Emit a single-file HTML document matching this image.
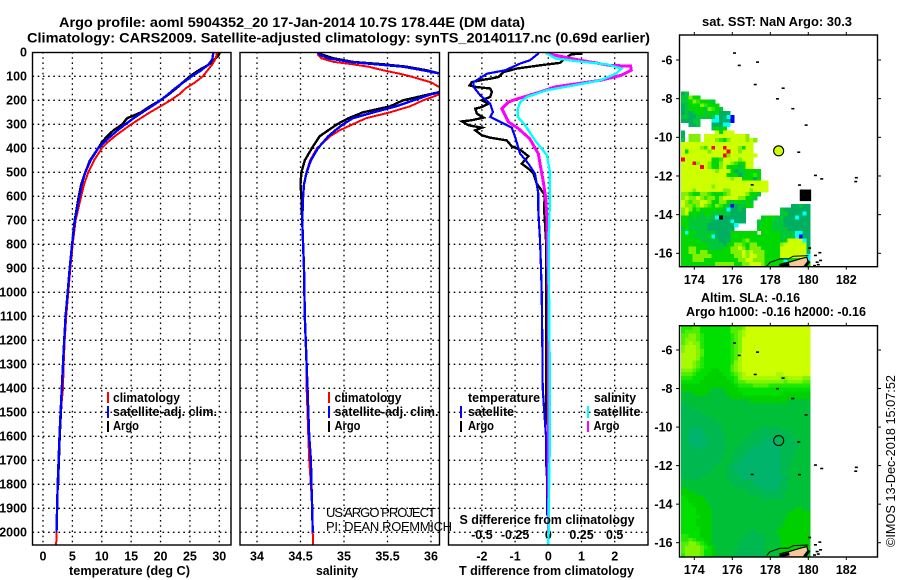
<!DOCTYPE html>
<html>
<head>
<meta charset="utf-8">
<title>Argo profile</title>
<style>
html,body{margin:0;padding:0;background:#fff;}
svg{display:block;}
text{font-family:"Liberation Sans",sans-serif;font-size:12.5px;font-weight:bold;fill:#000;}
.title{font-size:14px;}
.thin{font-weight:normal;font-size:13px;}
</style>
</head>
<body>
<svg id="fig" width="900" height="580" viewBox="0 0 900 580" xmlns="http://www.w3.org/2000/svg">
<defs>
<clipPath id="clipT"><rect x="32" y="52" width="199" height="493"/></clipPath>
<clipPath id="clipS"><rect x="240" y="52" width="200" height="493"/></clipPath>
<clipPath id="clipD"><rect x="448" y="52" width="200" height="493"/></clipPath>
<clipPath id="clipM1"><rect x="680" y="35" width="197" height="232"/></clipPath>
<clipPath id="clipM2"><rect x="680" y="326" width="197" height="231"/></clipPath>
</defs>
<rect x="0" y="0" width="900" height="580" fill="#fff"/>
<g id="layer"></g>

<text class="title" x="59" y="27" textLength="466" lengthAdjust="spacingAndGlyphs">Argo profile: aoml 5904352_20 17-Jan-2014 10.7S 178.44E (DM data)</text>
<text class="title" x="27" y="42.5" textLength="623" lengthAdjust="spacingAndGlyphs">Climatology: CARS2009. Satellite-adjusted climatology: synTS_20140117.nc (0.69d earlier)</text>

<text x="69" y="575" textLength="121" lengthAdjust="spacingAndGlyphs">temperature (deg C)</text>
<text x="316" y="575" textLength="42" lengthAdjust="spacingAndGlyphs">salinity</text>
<text x="459" y="575" textLength="175" lengthAdjust="spacingAndGlyphs">T difference from climatology</text>

<rect x="107" y="392" width="2" height="11" fill="#f00"/>
<rect x="107" y="406" width="2" height="12" fill="#00f"/>
<rect x="107" y="421" width="2" height="11" fill="#000"/>
<text x="113" y="402" textLength="67" lengthAdjust="spacingAndGlyphs">climatology</text>
<text x="113" y="416" textLength="104" lengthAdjust="spacingAndGlyphs">satellite-adj. clim.</text>
<text x="113" y="430" textLength="26" lengthAdjust="spacingAndGlyphs">Argo</text>

<rect x="328" y="392" width="2" height="11" fill="#f00"/>
<rect x="328" y="406" width="2" height="12" fill="#00f"/>
<rect x="328" y="421" width="2" height="11" fill="#000"/>
<text x="334.5" y="402" textLength="67" lengthAdjust="spacingAndGlyphs">climatology</text>
<text x="334.5" y="416" textLength="104" lengthAdjust="spacingAndGlyphs">satellite-adj. clim.</text>
<text x="334.5" y="430" textLength="26" lengthAdjust="spacingAndGlyphs">Argo</text>

<text class="thin" x="326" y="517" textLength="110" lengthAdjust="spacing">US ARGO PROJECT</text>
<text class="thin" x="326" y="531" textLength="126" lengthAdjust="spacing">PI: DEAN ROEMMICH</text>

<text x="468" y="402" textLength="72" lengthAdjust="spacingAndGlyphs">temperature</text>
<rect x="460" y="406" width="2" height="12" fill="#00f"/>
<text x="468" y="416" textLength="46" lengthAdjust="spacingAndGlyphs">satellite</text>
<rect x="460" y="421" width="2" height="11" fill="#000"/>
<text x="468" y="430" textLength="26" lengthAdjust="spacingAndGlyphs">Argo</text>
<text x="594" y="402" textLength="42" lengthAdjust="spacingAndGlyphs">salinity</text>
<rect x="587" y="406" width="2" height="12" fill="#0ff"/>
<text x="593.5" y="416" textLength="47" lengthAdjust="spacingAndGlyphs">satellite</text>
<rect x="587" y="421" width="2" height="11" fill="#f0f"/>
<text x="593.5" y="430" textLength="26" lengthAdjust="spacingAndGlyphs">Argo</text>
<text x="459.5" y="524" textLength="175" lengthAdjust="spacingAndGlyphs">S difference from climatology</text>

<text x="702" y="26" textLength="150" lengthAdjust="spacingAndGlyphs">sat. SST: NaN Argo: 30.3</text>
<text x="701" y="302" textLength="99" lengthAdjust="spacingAndGlyphs">Altim. SLA: -0.16</text>
<text x="686" y="316" textLength="180" lengthAdjust="spacingAndGlyphs">Argo h1000: -0.16 h2000: -0.16</text>
<text class="thin" transform="translate(895,547) rotate(-90)" x="0" y="0" textLength="172" lengthAdjust="spacingAndGlyphs">©IMOS 13-Dec-2018 15:07:52</text>
</svg>

<script>
// ---- profile data -----
var tempDepth = [0,15,30,50,75,100,125,150,175,200,225,250,275,300,325,350,375,400,450,500,550,600,700,800,900,1000,1100,1200,1300,1400,1500,1600,1700,1800,1900,2000,2050];
var tempClim = [29.6,29.5,29.3,28.8,28.0,27.2,25.9,24.3,23.2,21.7,20.0,18.2,16.6,15.0,13.6,12.2,11.0,10.0,8.7,7.7,7.0,6.5,5.55,5.05,4.65,4.3,3.95,3.7,3.5,3.4,3.0,2.8,2.65,2.5,2.4,2.3,2.25];
var tempSat = [29.0,28.9,28.8,28.2,26.9,25.3,23.9,22.5,21.3,20.0,18.5,16.9,15.4,14.0,12.7,11.5,10.4,9.4,8.1,7.2,6.6,6.2,5.45,4.95,4.55,4.2,3.85,3.6,3.4,3.2,3.0,2.8,2.65,2.5,2.4,2.3];
var tempArgo = [30.1,29.8,29.2,28.3,26.5,25.0,23.8,22.7,21.4,20.0,18.2,16.7,14.3,13.5,12.0,10.9,10.0,9.4,8.0,7.2,6.5,6.1,5.4,4.95,4.55,4.2,3.85,3.6,3.4,3.25,3.05,2.85,2.7,2.55];

var salDepth = [0,10,25,40,50,60,75,90,100,125,150,175,200,225,250,275,300,325,350,400,450,500,550,600,700,800,900,1000,1100,1200,1300,1400,1500,1600,1700,1800,1900,2000,2050];
var salClim = [34.70,34.70,34.74,34.88,35.10,35.28,35.45,35.65,35.76,36.00,36.12,36.10,35.91,35.76,35.53,35.25,35.10,34.95,34.84,34.69,34.61,34.57,34.54,34.53,34.52,34.53,34.54,34.545,34.55,34.56,34.57,34.57,34.58,34.59,34.60,34.62,34.635,34.64,34.645];
var salSat = [34.70,34.72,34.82,35.07,35.37,35.68,35.91,36.12,36.3,36.5,36.3,36.0,35.80,35.60,35.34,35.10,34.99,34.90,34.82,34.70,34.62,34.57,34.54,34.53,34.52,34.53,34.54,34.545,34.55,34.56,34.57,34.58,34.59,34.60,34.62,34.625,34.635,34.64];
var salArgo = [34.70,34.75,34.88,35.10,35.45,35.72,35.95,36.12,36.3,36.5,36.3,35.98,35.68,35.53,35.22,35.05,34.92,34.82,34.72,34.63,34.55,34.51,34.50,34.51,34.52,34.53,34.54,34.545,34.55,34.56,34.57,34.575,34.585,34.60,34.61,34.62];

var dTArgoDepth = [6,8,26,44,54,68,82,103,110,114,124,138,144,151,165,186,200,214,228,235,256,272,283,288,304,314,325,346,356,367,392,406,433,464,485,506,547,596,644,714,783,1000,1200,1400,1550];
var dTArgo = [1.03,0.70,0.50,0.35,-0.25,-0.95,-1.35,-1.50,-1.75,-1.95,-2.30,-2.37,-2.20,-1.75,-1.70,-1.75,-2.00,-1.80,-2.00,-2.20,-2.15,-1.95,-2.30,-2.60,-2.40,-2.00,-2.20,-2.00,-1.75,-1.25,-1.10,-0.85,-0.60,-0.80,-0.60,-0.45,-0.35,-0.10,-0.13,-0.10,-0.07,-0.06,-0.06,-0.07,-0.05];
var dTSatDepth = [3,33,47,75,89,103,124,144,179,214,249,269,290,314,353,422,464,506,589,658,783,900,1000,1200,1400,1500,1600,1700,1800,1930];
var dTSat = [-0.28,-0.55,-0.85,-1.30,-1.85,-2.00,-2.25,-2.25,-2.05,-1.75,-1.67,-1.75,-1.45,-1.10,-1.00,-0.85,-0.60,-0.40,-0.30,-0.30,-0.25,-0.22,-0.20,-0.18,-0.17,-0.12,-0.07,-0.07,-0.03,-0.03];
var dSArgoDepth = [3,12,33,54,58,75,96,117,144,165,197,207,235,262,290,318,360,422,471,533,603,672,783,1000,1400,1800,2000];
var dSArgo = [-0.02,0.05,0.24,0.46,0.62,0.625,0.55,0.39,0.05,-0.06,-0.25,-0.30,-0.35,-0.325,-0.30,-0.225,-0.14,-0.075,-0.06,-0.04,-0.02,-0.012,-0.008,0.0,0.0,0.002,0.003];
var dSSatDepth = [3,26,40,50,68,89,117,138,158,186,207,235,269,304,367,429,499,617,783,1000,1400,1600,1800,2000,2050];
var dSSat = [-0.02,0.06,0.26,0.44,0.55,0.51,0.39,0.19,-0.01,-0.16,-0.21,-0.23,-0.23,-0.175,-0.10,-0.01,0.012,0.012,0.003,0.005,0.012,0.012,0.006,0.002,0.0];

// ---- tick labels -----
var depthTicks = [0,100,200,300,400,500,600,700,800,900,1000,1100,1200,1300,1400,1500,1600,1700,1800,1900,2000];
var tempTicks = [0,5,10,15,20,25,30];
var salTicks = ["34","34.5","35","35.5","36"];
var dTTicks = [-2,-1,0,1,2];
var dSTicks = ["-0.5","-0.25","0","0.25","0.5"];
var lonTicks = [174,176,178,180,182];
var latTicks = [-6,-8,-10,-12,-14,-16];

// ---- map data -----
var sstColors = {d:"#00b060",g:"#00c838",G:"#00d800",l:"#30e800",L:"#80f000",y:"#ccff00",c:"#00ffff",b:"#0000ff",r:"#ff0000",k:"#000000"};
var sstRows = [
"dg",
"ggLGG",
"ggGLlGGGg",
"dgGGGLlGGG",
"dgGGGGgLlGg",
"dgdgGGgGgGddd",
"ggddgggggcddcb",
"dddgg...ccdddb",
"..ddg...dddcc",
"........gGgG",
"d........yGyyy",
"d.LLL.yyyyyyyyyyyL",
"g.LLL.yyyLlGLyyyyLyL",
"yyyyyyyyyyyyyyyyyyy",
"yyyyyLlyryyryyyLGyy",
"yGyyyyyLyyyyryyLyyy",
"yyyyyyyyyyyrLyyyyyyy",
"ryyyyyyyGGlyyyyLyyy",
"yyyrLyyLGGLyyLlGGyy",
"yyyyyryLGGLyGGGgGyy",
"yyyyyyyyyLyyyGdggGGGG",
"yyyyyyyyyyyyGGGdgGGlG",
"yyyyyyyyyyyyyLyyGGGdG",
"yyyyyyyyyyyyyyyyyyyyyyy",
"yyyyyyyyLyyyyyyyyyyyyyy",
"yyyLyyyyyyyLLyyyyyLyyyy",
"LLlGGLLlGGGlLyyyyLGGg",
"LyLLyLlLLGLyyyyLLGGg",
"yLlLLyyLGGLLGgGGgGg",
"yLLlLyLlGLlGgbdggGG..........ddgdd",
"LyLGlGGGGGGgcddgd.........gddddddd",
"LyGGGgGGgggggdddd.........gGddddcd",
"GGgGgggggckdddddd....gGGGggdddcddd",
"GGggggggdddddcddd...gGGGgggddddddd",
"GGgggggdddddddc.....gGGGgggddddddd",
"gGgggggddddddd......GGGGggggdddddd",
"GcGGgggggddddGGGGGGG.GGGGGggggccdd",
"GGGggggGcddddGGGGGGGGGGGGGggggcbdd",
"GGGGGgggggdddGGGlLGGGGGGGGgGyyyycd",
"GGGGGGGggggdGGLLlGLLGGGGGGLyyyyyyd",
"GGLLGGGggggGGLLyLGLLLGGGGGyyyyyyyd",
"GGLLGLLGGGGGGLLLyLyLLLGGGGyyyyyyyd",
"GGGLLLLLGGGGGGLLyLyyLLGGGGyyyyyyyc",
"GGGLLLGGGGGGGGGLLyyLLLGGGGGcGGGGGc",
"GGGGGGGGGLLLLLGGLLyyyLGGGGGGGGGGGG"
];
var slaColors = {A:"#00b46c",B:"#00b850",C:"#00c038",D:"#00d000",E:"#00e000",F:"#20e800",G:"#50ee00",H:"#80f400",I:"#a8fa00",J:"#ccff00"};
var slaRows = [
"FFFGGEEEEEEEEGGGHJJJJJJJJJJJJJJJJJ",
"FGGGGEEEEEEEEGGHIJJJJJJJJJJJJJJJJJ",
"GGHHGFEEEEEEEFGHIJJJJJJJJJJJJJJJJJ",
"GHHHGFEEEEEEEFGHJJJJJJJJJJJJJJJJJJ",
"GHIHHFEEEEEEEFGHJJJJJJJJJJJJJJJJJJ",
"HIIIHFEEEEEEEFGHJJJJJJJJJJJJJJJJJJ",
"HIIIHGEEEEEEEFGHJJJJJJJJJJJJJJJJJJ",
"IIIIHGEEEEEEEFGIJJJJJJJJJJJJJJJJJJ",
"IIIIHFEEEEEEEFGIJJJJJJJJJJJJJJJJJJ",
"IIIHGFEEEEEEEFHIJJJJJJJJJJJJJJJJJJ",
"IIIHGFEEEEEEEGHIJJJJJJJJJJJJJJJJJJ",
"HHHGFEEEDDEEEGHIJJJJJJJJJJJJJJJJJJ",
"GGGFEEEDDDDEEFGHIJJJJJJJJIIJJJJJJJ",
"FFFEEEDDDDDDEEFHIIIIIIIIIIHHIIIIHH",
"EEEEEDDDDDDDDEFGGHHHHHHHHHHGHHHHGG",
"DDDDDDDDDDDDDDEFFFFGGGGFFFFFFFFFFF",
"DDDDDDDDCCCDDDDEEEEEEEEEEEEEEEEEEE",
"CCCDDDDCCCCCDDDDEEEEEEEEEEEDDDDDDD",
"CCCCCCCCCCCCCDDDDDDDDDDDDDDDDDDDDD",
"CCCCCCCCCCCCCCCCCCDDDDDDDDDDCCCCCC",
"BBCCCCCCCCCCCCCCCCCCCCCCCCCCCCCCCC",
"BBBCCCCCCCCCCCCCCCCCCCCCCCCCCCCCCC",
"BBBBBCCCCCCCCCCCCCCCCCCCCCCCCCCCCC",
"BBBBBBBCCCCCCCCCCCCCCCCCCCCCCCCCCC",
"BBBBBBBBBCCCCCCCCCCCCCCCCCCCCCCCCC",
"BBBBBBBBBBCCCCCCCCCCCCCCCCCCCCCCCC",
"BBBAABBBBBBCCCCCCCCCCBBBBBCCCCCCCC",
"BBAAAABBBBBCCCCCCCCBBBBBBBBBBCCCCC",
"BBAAAABBBBBBCCCCCCBBBBBBBBBBBBCCCC",
"BBAAAAABBBBBCCCCCBBBBBAAABBBBBCCCC",
"BBAAAAABBBBBCCCCBBBBBAAAAABBBBBCCC",
"BBBAAABBBBBBCCCBBBBAAAAAAABBBBBCCC",
"BBBBBBBBBBBBCCBBBBAAAAAAAABBBBCCCC",
"BBBBBBBBBBBCCCBBBAAAAAAAAABBBBCCCC",
"BBBBBBBBBBBCCBBBAAAAAAAAAABBBCCCCC",
"BBBBBBBBBBCCCBBAAAAAAAAAAABBBCCCCC",
"BBBBBBBBBCCCBBAAAAAAAAAAAABBBCCCCC",
"BBBBBBBBCCCCBBAAAAAAAAAAAABBCCCCCC",
"BBBBBBBCCCCCBBBAAAAAAAAAAABBCCCCCC",
"CBBBBCCCCCCCBBBBAAAAAAAAAAABBCCCCC",
"CCCCCCCCCCCCCBBBBBBAAAAAAABBCCCCCC",
"CCCCCCCCCCCCCCBBBBBBAAAAAABBCCCCCC",
"DDCCCCCCCCCCCCCCCBBBBBAAABBBCCCCCC",
"DDDDCCCCCCCCCCCCCCBBBBBBBBBCCCCCCC",
"EDDDDDCCCCCCCCCCCCCCCBBBBBBCCCCCCC",
"EEDDDDDCCCCCCCCCCCCCCCCCCCCCCCCCCC",
"EEEDDDDCCCCCCCCCCCCCCCCCCCCCCCCCCC",
"EEEEDDDDCCCCCCCCCCCCCCCCCCCCCCDDCC",
"EEEEDDDDCCCCCCCCCCCCCCCCCCCCDDDDDD",
"EEEEEDDDCCCCCCCCCCCCCCCCCCCCDDDDDD",
"EEEEDDDDCCCCCCCCCCCCCCCCCCCDDDDDDD",
"EEEEDDDDCCCCCCCCCCCCCCCCCCCDDDDDDD",
"EEEEEDDDCCCCCCCCCCCCCCCCCCDDDDDDDD",
"EEEEEDDDCCCCCCCCCCBBCCCCCDDDDDDDDD",
"FFEEEDDDCCCCCCCCCBBBBBCCCCDDDDDDDD",
"FFGFEEDDCCCCCCCCBBBBBBCCCCDDDDDDDD",
"GGHHGFEDCCCCCCCBBBBBBBCCCCDDDDDDDD",
"GHHHHGFEDCCCCCCBBBBBBBCCCCDDDDDDDD",
"GHHHHGEEDCCCCCBBBBBBBBCCCCDDDDDDDD",
"FHHHHGEEDCCCCCBBBBBBBBCCCCDDDDDDDD"
];
var islandLon = [176.09,176.34,177.3,177.18,178.65,178.35,179.16,179.86,179.47,180.35,180.68,182.47,182.5,177.02,179.51,180.04,180.35,180.58,180.44,180.62,180.3,180.5];
var islandLat = [-5.65,-6.29,-6.12,-7.28,-7.47,-8.02,-8.53,-9.38,-10.78,-11.98,-12.16,-12.3,-12.1,-12.47,-12.48,-15.74,-16.12,-15.98,-16.47,-16.38,-16.65,-16.6];
var landLon = [178.51,178.51,178.95,179.56,179.92,180.0,179.74];
var landLat = [-16.74,-16.57,-16.47,-16.29,-16.2,-16.47,-16.74];
var coastLon = [177.81,177.98,178.51,178.95,179.21,180.0];
var coastLat = [-16.67,-16.47,-16.29,-16.29,-16.15,-16.12];
var reefWestLon = [178.5,179.0];
var reefWestLat = [-16.68,-16.58];
var reefEastLon = [179.8,180.05];
var reefEastLat = [-16.72,-16.4];
var argoLon = [178.44];
var argoLat = [-10.7];
var boxLon = [179.55,180.15];
var boxLat = [-12.7,-13.3];

// ---- axis functions -----
function depthY(d){return 52.3+0.24*d;}
function tempX(t){return 43+5.877*t;}
function salX(s){return 257+87*(s-34);}
function dTX(t){return 548.3+33.2*t;}
function dSX(s){return 548.3+132.8*s;}
function lonX(l){return 694.3+19*(l-174);}
function latY1(l){return 60+19.33*(-6-l);}
function latY2(l){return 350+19.27*(-6-l);}

var NS="http://www.w3.org/2000/svg";
var layer=document.getElementById("layer");
function mk(tag,parent){var e=document.createElementNS(NS,tag);(parent||layer).appendChild(e);return e;}
function dotted(x1,y1,x2,y2){
  var l=mk("line",gridG);
  l.setAttribute("x1",x1);l.setAttribute("y1",y1);l.setAttribute("x2",x2);l.setAttribute("y2",y2);
  l.setAttribute("stroke","#000");l.setAttribute("stroke-width","1.3");l.setAttribute("stroke-dasharray","1.6 3.6");
  
  
}
function label(txt,x,y,anchor,nm){
  var t=mk("text");
  t.textContent=txt;t.setAttribute("x",x);t.setAttribute("y",y);t.setAttribute("text-anchor",anchor);
  
  
}
function curve(xs,ds,xf,color,clip,nm,w){
  var pts=[];
  for(var i=0;i<xs.length;i++){pts.push(xf(xs[i]).toFixed(1)+","+depthY(ds[i]).toFixed(1));}
  var p=mk("polyline");
  p.setAttribute("points",pts.join(" "));p.setAttribute("fill","none");p.setAttribute("stroke",color);
  p.setAttribute("stroke-width",w||2);p.setAttribute("clip-path","url(#"+clip+")");p.setAttribute("shape-rendering","crispEdges");
  
  
}
function frame(x,y,w,h,nm){
  var r=mk("rect");
  r.setAttribute("x",x);r.setAttribute("y",y);r.setAttribute("width",w);r.setAttribute("height",h);
  r.setAttribute("fill","none");r.setAttribute("stroke","#000");r.setAttribute("stroke-width","1.4");
  
  
}

var gridG=mk("g");


var panels=[[32.5,231],[240,439.5],[448.5,648]];
panels.forEach(function(p){
  depthTicks.forEach(function(d){ if(d>0) dotted(p[0],depthY(d),p[1],depthY(d)); });
});
tempTicks.forEach(function(t){dotted(tempX(t),52,tempX(t),545);});
salTicks.forEach(function(s){dotted(salX(+s),52,salX(+s),545);});
dTTicks.forEach(function(t){dotted(dTX(t),52,dTX(t),545);});

depthTicks.forEach(function(d){label(String(d),27,depthY(d)+4.3,"end","depth-tick-label");});
tempTicks.forEach(function(t){label(String(t),tempX(t),560.5,"middle","temperature-tick-label");});
salTicks.forEach(function(s){label(s,salX(+s),560.5,"middle","salinity-tick-label");});
dTTicks.forEach(function(t){label(String(t),dTX(t),560.5,"middle","t-difference-tick-label");});
dSTicks.forEach(function(s){label(s,dSX(+s),539,"middle","s-difference-tick-label");});

function part(a,b){return b.slice(0,a.length);}
curve(tempArgo,part(tempArgo,tempDepth),tempX,"#000","clipT","temperature-argo-line",2.4);
curve(tempClim,part(tempClim,tempDepth),tempX,"#f00","clipT","temperature-climatology-line");
curve(tempSat,part(tempSat,tempDepth),tempX,"#00f","clipT","temperature-satellite-line",2.4);
curve(salArgo,part(salArgo,salDepth),salX,"#000","clipS","salinity-argo-line",2.4);
curve(salClim,part(salClim,salDepth),salX,"#f00","clipS","salinity-climatology-line");
curve(salSat,part(salSat,salDepth),salX,"#00f","clipS","salinity-satellite-line",2.4);
curve(dTArgo,dTArgoDepth,dTX,"#000","clipD","t-difference-argo-line",2.4);
curve(dTSat,dTSatDepth,dTX,"#00f","clipD","t-difference-satellite-line",2.2);
curve(dSArgo,dSArgoDepth,dSX,"#f0f","clipD","s-difference-argo-line",3);
curve(dSSat,dSSatDepth,dSX,"#0ff","clipD","s-difference-satellite-line",2.4);

frame(32.5,52.5,198.5,492.5,"temperature-panel-frame");
frame(240,52.5,199.5,492.5,"salinity-panel-frame");
frame(448.5,52.5,199.5,492.5,"difference-panel-frame");

// ---- maps -----
function cells(rows,colors,top,latF,clip,nm,pad){
  var g=mk("g");
  g.setAttribute("clip-path","url(#"+clip+")");
  g.setAttribute("shape-rendering","crispEdges");
  
  
  rows.forEach(function(row,r){
    var s=pad?row.padEnd(34,row[row.length-1]).slice(0,34):row;
    for(var c=0;c<s.length;c++){
      var col=colors[s[c]];
      if(!col) continue;
      var lon=173.3+0.2*c, lat=top-0.2*r;
      var x0=lonX(lon), x1=lonX(lon+0.2), y0=latF(lat), y1=latF(lat-0.2);
      var e=mk("rect",g);
      e.setAttribute("x",x0.toFixed(2));e.setAttribute("y",y0.toFixed(2));
      e.setAttribute("width",(x1-x0+0.3).toFixed(2));e.setAttribute("height",(y1-y0+0.3).toFixed(2));
      e.setAttribute("fill",col);
      
      
    }
  });
}
cells(sstRows,sstColors,-7.64,latY1,"clipM1","sst-heatmap",false);
cells(slaRows,slaColors,-4.75,latY2,"clipM2","sla-heatmap",true);

function line2(parent,lons,lats,latF,w,nm){
  var c=mk("polyline",parent);
  c.setAttribute("points",lons.map(function(l,i){return lonX(l).toFixed(1)+","+latF(lats[i]).toFixed(1);}).join(" "));
  c.setAttribute("fill","none");c.setAttribute("stroke","#000");c.setAttribute("stroke-width",w);
  
  
}
function overlays(latF,clip,prefix,fillArgo){
  var g=mk("g");
  g.setAttribute("clip-path","url(#"+clip+")");
  
  
  var land=mk("polygon",g);
  land.setAttribute("points",landLon.map(function(l,i){return lonX(l).toFixed(1)+","+latF(landLat[i]).toFixed(1);}).join(" "));
  land.setAttribute("fill","#f8c898");land.setAttribute("stroke","#000");land.setAttribute("stroke-width","1.2");
  
  
  line2(g,coastLon,coastLat,latF,1,prefix+"-coastline");
  line2(g,reefWestLon,reefWestLat,latF,3,prefix+"-reef-west");
  line2(g,reefEastLon,reefEastLat,latF,3,prefix+"-reef-east");
  islandLon.forEach(function(l,i){
    var e=mk("rect",g);
    e.setAttribute("x",lonX(l)-1);e.setAttribute("y",latF(islandLat[i])-1);
    e.setAttribute("width",3);e.setAttribute("height",1.6);e.setAttribute("fill","#000");
    
    
  });
  var c=mk("circle",g);
  c.setAttribute("cx",lonX(argoLon[0]));c.setAttribute("cy",latF(argoLat[0]));c.setAttribute("r",5);
  c.setAttribute("fill",fillArgo);c.setAttribute("stroke","#000");c.setAttribute("stroke-width","1.1");
  
  
}
overlays(latY1,"clipM1","sst-map","#ccff00");
overlays(latY2,"clipM2","sla-map","none");

var box=mk("rect");
box.setAttribute("x",lonX(boxLon[0]));box.setAttribute("y",latY1(boxLat[0]));
box.setAttribute("width",lonX(boxLon[1])-lonX(boxLon[0]));box.setAttribute("height",latY1(boxLat[1])-latY1(boxLat[0]));
box.setAttribute("fill","#000");



function tick(x1,y1,x2,y2){
  var l=mk("line");
  l.setAttribute("x1",x1);l.setAttribute("y1",y1);l.setAttribute("x2",x2);l.setAttribute("y2",y2);
  l.setAttribute("stroke","#000");l.setAttribute("stroke-width","1");
  
  
}
function mapAxes(top,bottom,latF,lonLabelY,nm){
  frame(679.5,top,198,bottom-top,nm+"-frame");
  lonTicks.forEach(function(l){
    var x=lonX(l);
    tick(x,top,x,top-3);tick(x,bottom,x,bottom+3);
    label(String(l),x,lonLabelY,"middle",nm+"-lon-label");
  });
  latTicks.forEach(function(l){
    var y=latF(l);
    tick(679.5,y,676,y);tick(877.5,y,881,y);
    label(String(l),672.5,y+4.3,"end",nm+"-lat-label");
  });
}
mapAxes(35,266.7,latY1,284,"sst-map");
mapAxes(325.7,557,latY2,574,"sla-map");
</script>
</body>
</html>
